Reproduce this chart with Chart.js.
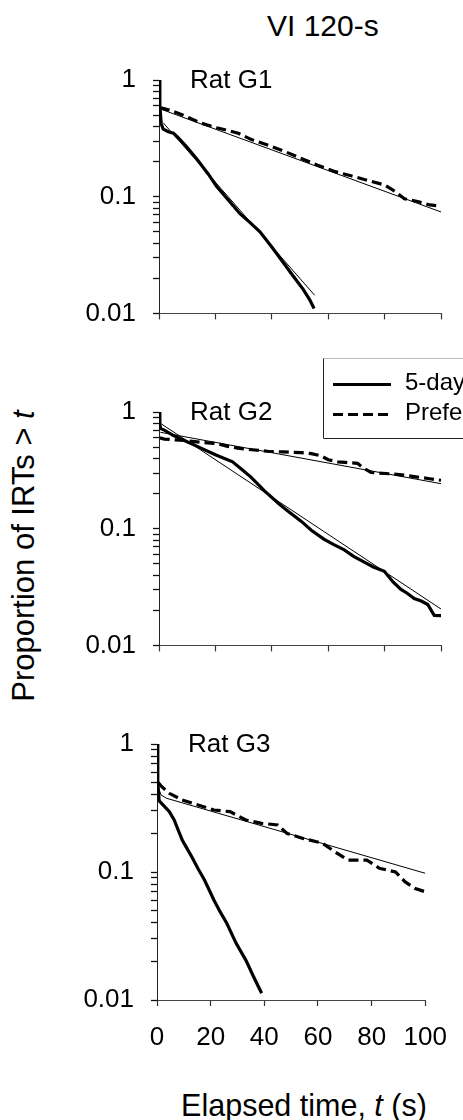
<!DOCTYPE html>
<html><head><meta charset="utf-8">
<script src="https://cdn.jsdelivr.net/npm/chart.js@4.4.1/dist/chart.umd.min.js"></script>
<style>
html,body{margin:0;padding:0;background:#fff;}
body{width:463px;height:1120px;position:relative;overflow:hidden;font-family:"Liberation Sans",Arial,sans-serif;color:#000;}
canvas{position:absolute;left:0;}
.txt{position:absolute;white-space:nowrap;line-height:1;}
</style></head><body>
<div class="txt" style="left:267px;top:11px;font-size:30px;">VI 120-s</div>
<div class="txt" style="left:23px;top:556px;font-size:31px;transform:translate(-50%,-50%) rotate(-90deg);">Proportion of IRTs &gt; <i>t</i></div>
<div class="txt" style="left:304px;top:1105px;font-size:30.5px;transform:translate(-50%,-50%);">Elapsed time, <i>t</i> (s)</div>
<canvas id="c1" width="463" height="306" style="top:40px"></canvas>
<canvas id="c2" width="463" height="326" style="top:352px"></canvas>
<canvas id="c3" width="463" height="356" style="top:704px"></canvas>
<script>
// ---------- data ----------
const panelNames = ['Rat G1', 'Rat G2', 'Rat G3'];
const seriesNames = ['5-day', 'Prefeeding'];
const xTicks = [0, 20, 40, 60, 80, 100];
const yTickValues = [0.01, 0.02, 0.03, 0.04, 0.05, 0.06, 0.07, 0.08, 0.09, 0.1, 0.2, 0.3, 0.4, 0.5, 0.6, 0.7, 0.8, 0.9, 1];
const yTickLabels = ['0.01', '0.1', '1'];

// Rat G1
const g1DayT = [0, 0.3, 0.8, 1.5, 3.3, 5.1, 6.8, 9.8, 13.4, 17.5, 20.4, 24.5, 28.7, 32.3, 35.8, 40, 44, 47.5, 51.2, 53.5, 55];
const g1DayP = [1.0, 0.6, 0.42, 0.38, 0.36, 0.35, 0.32, 0.267, 0.21, 0.156, 0.123, 0.094, 0.0715, 0.06, 0.05, 0.037, 0.0274, 0.021, 0.016, 0.013, 0.011];
const g1PrefT = [0.3, 3.9, 8.6, 14.5, 20.5, 28.1, 32.6, 38, 44.4, 50, 56.3, 62, 68.1, 74, 80, 84, 87, 91.7, 96, 100];
const g1PrefP = [0.58, 0.55, 0.5, 0.43, 0.39, 0.35, 0.31, 0.28, 0.245, 0.215, 0.186, 0.165, 0.151, 0.138, 0.126, 0.11, 0.096, 0.091, 0.085, 0.083];
const g1DayFitT = [1.5, 55.2];
const g1DayFitP = [0.43, 0.0143];
const g1PrefFitT = [0, 100];
const g1PrefFitP = [0.57, 0.074];

// Rat G2
const g2DayT = [0, 0.3, 0.6, 1.9, 5, 9, 14.9, 20, 26.1, 29.5, 32.6, 37.5, 42.7, 46, 50.4, 54, 58.6, 62, 65.7, 69, 72.8, 76, 79.9, 83, 85.8, 88, 90.5, 93, 95.3, 97.6, 100];
const g2DayP = [1.0, 0.78, 0.72, 0.7, 0.63, 0.57, 0.49, 0.43, 0.374, 0.32, 0.277, 0.21, 0.162, 0.14, 0.116, 0.097, 0.081, 0.073, 0.0658, 0.058, 0.0517, 0.047, 0.0432, 0.035, 0.0302, 0.028, 0.0252, 0.024, 0.0224, 0.0181, 0.018];
const g2PrefT = [0.3, 1.9, 9, 15, 20.8, 24, 27.9, 33, 38.5, 44, 50.4, 54, 57.4, 60, 63.4, 66, 70.4, 72.5, 75.2, 82.3, 87, 91.7, 96, 100];
const g2PrefP = [0.6, 0.586, 0.57, 0.55, 0.536, 0.51, 0.49, 0.475, 0.461, 0.455, 0.448, 0.44, 0.422, 0.39, 0.374, 0.37, 0.363, 0.33, 0.303, 0.295, 0.288, 0.277, 0.268, 0.26];
const g2DayFitT = [0.5, 100];
const g2DayFitP = [0.8, 0.0205];
const g2PrefFitT = [0.5, 100];
const g2PrefFitP = [0.67, 0.243];

// Rat G3
const g3DayT = [0, 0.3, 0.8, 2.5, 4.6, 6.4, 8, 9.4, 11, 12.9, 15.3, 17.7, 21.2, 23.5, 26, 29.5, 33.1, 36, 39];
const g3DayP = [1.0, 0.5, 0.36, 0.33, 0.296, 0.255, 0.21, 0.178, 0.155, 0.132, 0.106, 0.0866, 0.0604, 0.049, 0.0398, 0.0277, 0.0205, 0.0152, 0.0113];
const g3PrefT = [0.5, 1.5, 4.6, 9.4, 15.3, 21.2, 27.2, 33.1, 39, 45, 48.5, 54.4, 61.6, 66.3, 71.1, 78.2, 82.9, 88.9, 92.4, 96, 100];
const g3PrefP = [0.5, 0.47, 0.412, 0.365, 0.334, 0.305, 0.296, 0.255, 0.24, 0.233, 0.2, 0.183, 0.168, 0.144, 0.124, 0.124, 0.107, 0.1, 0.084, 0.0746, 0.07];
const g3PrefFitT = [0.3, 1.5, 3.5, 100];
const g3PrefFitP = [0.47, 0.4, 0.377, 0.0977];

// ---------- helpers ----------
Chart.defaults.font.family = '"Liberation Sans", Arial, sans-serif';
Chart.defaults.color = '#000';
const FONT = '"Liberation Sans", Arial, sans-serif';

function pts(ts, ps) { return ts.map((t, i) => ({ x: t, y: ps[i] })); }

function fitSet(ts, ps) {
  return { data: pts(ts, ps), borderColor: '#000', borderWidth: 1, pointRadius: 0, tension: 0, fill: false };
}
function daySet(ts, ps) {
  return { data: pts(ts, ps), borderColor: '#000', borderWidth: 3.2, pointRadius: 0, tension: 0, fill: false, borderCapStyle: 'butt' };
}
function prefSet(ts, ps) {
  return { data: pts(ts, ps), borderColor: '#000', borderWidth: 3.2, pointRadius: 0, tension: 0, fill: false, borderDash: [10, 5] };
}

const panelLabelPlugin = {
  id: 'panelLabel',
  afterDraw(chart, args, opts) {
    const { ctx, chartArea } = chart;
    ctx.save();
    ctx.font = '26px ' + FONT;
    ctx.fillStyle = '#000';
    ctx.textBaseline = 'middle';
    ctx.textAlign = 'left';
    ctx.fillText(opts.text, chartArea.left + 31, chartArea.top + 1);
    ctx.restore();
  }
};

const boxLegendPlugin = {
  id: 'boxLegend',
  afterDraw(chart, args, opts) {
    if (!opts.show) return;
    const { ctx } = chart;
    const x0 = 323.5, y0 = opts.top + 0.5, w = 200, h = 80;
    ctx.save();
    ctx.fillStyle = '#fff';
    ctx.fillRect(x0, y0, w, h);
    ctx.lineWidth = 1;
    ctx.strokeStyle = '#bbb';
    ctx.beginPath(); ctx.moveTo(x0, y0); ctx.lineTo(x0 + w, y0); ctx.stroke();
    ctx.strokeStyle = '#222';
    ctx.beginPath(); ctx.moveTo(x0, y0); ctx.lineTo(x0, y0 + h); ctx.lineTo(x0 + w, y0 + h); ctx.stroke();
    ctx.strokeStyle = '#000';
    ctx.lineWidth = 3.2;
    ctx.beginPath(); ctx.moveTo(333, y0 + 26); ctx.lineTo(391, y0 + 26); ctx.stroke();
    ctx.setLineDash([10, 5]);
    ctx.beginPath(); ctx.moveTo(333, y0 + 56); ctx.lineTo(391, y0 + 56); ctx.stroke();
    ctx.setLineDash([]);
    ctx.font = '24px ' + FONT;
    ctx.fillStyle = '#000';
    ctx.textBaseline = 'middle';
    ctx.fillText(opts.labels[0], 405, y0 + 25);
    ctx.fillText(opts.labels[1], 405, y0 + 55);
    ctx.restore();
  }
};

function isDecade(v) {
  const l = Math.log10(v);
  return Math.abs(l - Math.round(l)) < 1e-6;
}

function makeChart(id, idx, datasets, opt) {
  return new Chart(document.getElementById(id), {
    type: 'line',
    data: { datasets },
    plugins: [panelLabelPlugin, boxLegendPlugin],
    options: {
      responsive: false,
      devicePixelRatio: 1,
      animation: false,
      layout: { padding: { top: opt.padTop, left: 0, right: opt.padRight, bottom: 0 } },
      plugins: {
        legend: { display: false },
        tooltip: { enabled: false },
        panelLabel: { text: panelNames[idx] },
        boxLegend: { show: !!opt.legend, labels: seriesNames, top: opt.legendTop || 0 }
      },
      scales: {
        x: {
          type: 'linear', min: 0, max: 100,
          afterBuildTicks: s => { s.ticks = xTicks.map(v => ({ value: v })); },
          ticks: { display: opt.xLabels, padding: 16, maxRotation: 0, autoSkip: false, font: { size: 26 }, color: '#000' },
          grid: { drawOnChartArea: false, drawTicks: true, tickLength: 6, color: '#333', tickColor: '#333', tickWidth: 1.2 },
          border: { display: true, color: '#444', width: 1 },
          afterFit: s => { s.height = opt.xH; }
        },
        y: {
          type: 'logarithmic', min: 0.01, max: 1, position: 'left',
          afterBuildTicks: s => { s.ticks = yTickValues.map(v => ({ value: v, major: isDecade(v) })); },
          ticks: {
            autoSkip: false, padding: 17, font: { size: 26 }, color: '#000',
            callback: v => isDecade(v) ? yTickLabels[Math.round(Math.log10(v)) + 2] : ' '
          },
          grid: { drawOnChartArea: false, drawTicks: true, tickLength: 6, color: '#111', tickColor: '#111', tickWidth: 1.3 },
          border: { display: true, color: '#222', width: 1 },
          afterFit: s => { s.width = opt.yW; }
        }
      }
    }
  });
}

makeChart('c1', 0, [
  fitSet(g1DayFitT, g1DayFitP), fitSet(g1PrefFitT, g1PrefFitP),
  daySet(g1DayT, g1DayP), prefSet(g1PrefT, g1PrefP)
], { padTop: 40, padRight: 22, xH: 10, yW: 159, xLabels: false });

makeChart('c2', 1, [
  fitSet(g2DayFitT, g2DayFitP), fitSet(g2PrefFitT, g2PrefFitP),
  daySet(g2DayT, g2DayP), prefSet(g2PrefT, g2PrefP)
], { padTop: 60, padRight: 22, xH: 10, yW: 159, xLabels: false, legend: true, legendTop: 6 });

makeChart('c3', 2, [
  fitSet(g3PrefFitT, g3PrefFitP),
  daySet(g3DayT, g3DayP), prefSet(g3PrefT, g3PrefP)
], { padTop: 40, padRight: 25, xH: 60, yW: 157, xLabels: true });
</script>
</body></html>
